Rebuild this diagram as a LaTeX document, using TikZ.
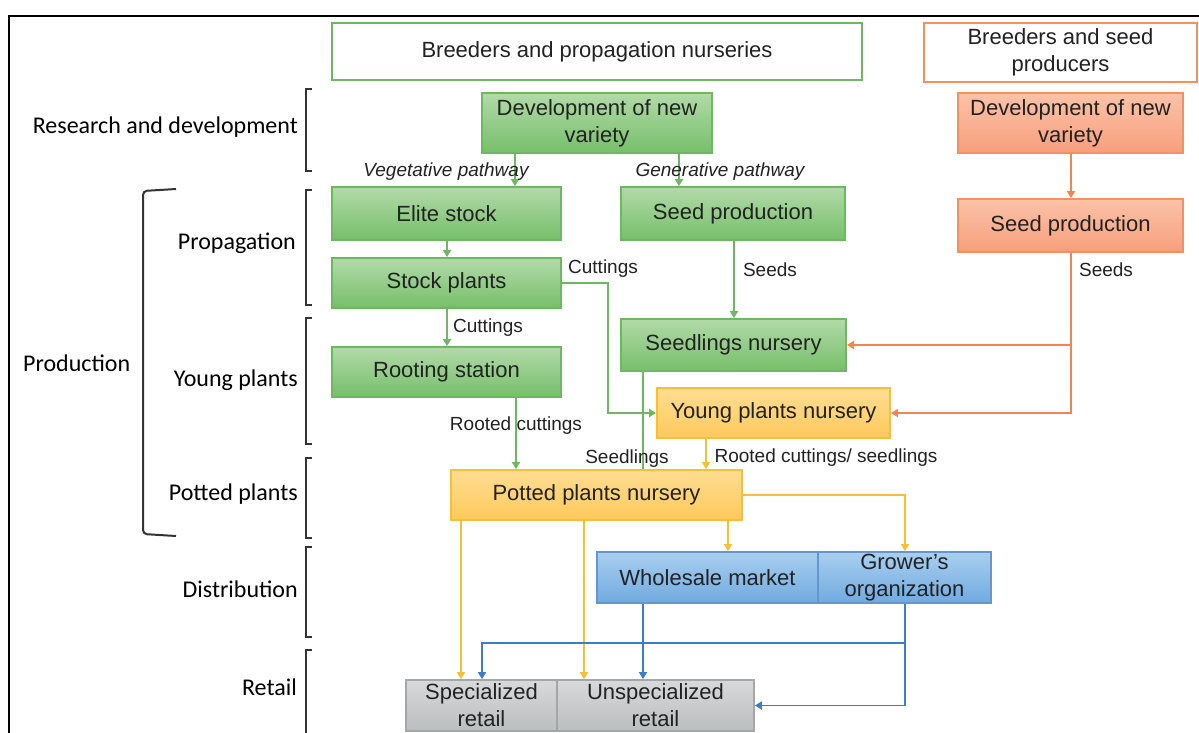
\documentclass[tikz,border=0pt]{standalone}
\usepackage{fontspec}
\setmainfont{Liberation Sans}
\newfontfamily\calfont{Carlito}
\usetikzlibrary{arrows.meta}
\definecolor{gtop}{HTML}{B2DAA8}
\definecolor{gbot}{HTML}{76BF6A}
\definecolor{gline}{HTML}{6DB862}
\definecolor{otop}{HTML}{FCC2A8}
\definecolor{obot}{HTML}{F79F7C}
\definecolor{oline}{HTML}{F5844E}
\definecolor{ytop}{HTML}{FFDD92}
\definecolor{ybot}{HTML}{FFC95C}
\definecolor{yline}{HTML}{F7BE3A}
\definecolor{btop}{HTML}{AACFEF}
\definecolor{bbot}{HTML}{6FAAE0}
\definecolor{bline}{HTML}{3E7CC6}
\definecolor{xtop}{HTML}{D8D9DB}
\definecolor{xbot}{HTML}{BCBDBF}
\definecolor{xline}{HTML}{A5A6A8}
\definecolor{txt}{HTML}{222222}
\definecolor{brk}{HTML}{333333}
\begin{document}
\begin{tikzpicture}[x=1pt,y=-1pt,
  box/.style={rectangle, inner sep=0pt, line width=1.8pt, align=center, text=txt,
    font=\fontsize{22pt}{27pt}\selectfont},
  gbox/.style={box, draw=gline, top color=gtop, bottom color=gbot},
  obox/.style={box, draw=oline!90, top color=otop, bottom color=obot},
  ybox/.style={box, draw=yline, top color=ytop, bottom color=ybot},
  bbox/.style={box, draw=bline!80, top color=btop, bottom color=bbot},
  xbox/.style={box, draw=xline, top color=xtop, bottom color=xbot},
  hbox/.style={box, fill=white},
  conn/.style={line width=1.8pt},
  tip/.style={-{Triangle[length=7pt,width=8pt]}},
  gc/.style={conn, draw=gline},
  oc/.style={conn, draw=oline},
  yc/.style={conn, draw=yline},
  bc/.style={conn, draw=bline},
  lab/.style={inner sep=0pt, text=txt, font=\fontsize{19pt}{23pt}\selectfont},
  ilab/.style={lab, font=\fontsize{19pt}{23pt}\selectfont\itshape},
  side/.style={inner sep=0pt, text=black, font=\calfont\fontsize{24pt}{28pt}\selectfont},
  bracket/.style={line width=2pt, draw=brk}
]
\useasboundingbox (0,0) rectangle (1199,733);
% outer frame
\draw[line width=2.5pt, black] (9,733) -- (9,16) -- (1199,16);

% header boxes
\node[hbox, draw=gline, minimum width=530pt, minimum height=57pt] (hdrG) at (597,51.5) {Breeders and propagation nurseries};
\node[hbox, draw=oline!90, minimum width=273pt, minimum height=59pt] (hdrO) at (1060.5,52.5) {Breeders and seed\\producers};

% boxes
\node[gbox, minimum width=230pt, minimum height=60pt] (devG) at (597,123) {Development of new\\variety};
\node[obox, minimum width=225pt, minimum height=60pt] (devO) at (1070.5,123) {Development of new\\variety};
\node[gbox, minimum width=229pt, minimum height=53pt] (elite) at (446.5,213.5) {Elite stock};
\node[gbox, minimum width=224pt, minimum height=53pt] (seedG) at (733,213.5) {Seed production};
\node[obox, minimum width=225pt, minimum height=53pt] (seedO) at (1070.5,225.5) {Seed production};
\node[gbox, minimum width=229pt, minimum height=50pt] (stock) at (446.5,283) {Stock plants};
\node[gbox, minimum width=225pt, minimum height=52pt] (seedl) at (733.5,345) {Seedlings nursery};
\node[gbox, minimum width=229pt, minimum height=50pt] (rooting) at (446.5,372) {Rooting station};
\node[ybox, minimum width=233pt, minimum height=50pt] (young) at (773.5,413) {Young plants nursery};
\node[ybox, minimum width=291pt, minimum height=50pt] (potted) at (596.5,495) {Potted plants nursery};
\node[bbox, minimum width=221pt, minimum height=51pt] (whole) at (707.5,577.5) {Wholesale market};
\node[bbox, minimum width=173pt, minimum height=51pt] (grower) at (904.5,577.5) {Grower’s\\organization};
\node[xbox, minimum width=151pt, minimum height=51pt] (spec) at (481.5,705.5) {Specialized\\retail};
\node[xbox, minimum width=197pt, minimum height=51pt] (unspec) at (655.5,705.5) {Unspecialized\\retail};

% x and y reference coordinates
\coordinate (xveg) at (515,0);
\coordinate (xgen) at (679,0);
\coordinate (xorg) at (1071,0);
\coordinate (xel) at (447,0);
\coordinate (xseeds) at (734,0);
\coordinate (xcut) at (608,0);
\coordinate (xroot) at (516,0);
\coordinate (xsdl) at (643,0);
\coordinate (xyp) at (706,0);
\coordinate (xsp) at (461,0);
\coordinate (xus) at (584,0);
\coordinate (xwh) at (728,0);
\coordinate (xgr) at (905,0);
\coordinate (xwd) at (643,0);
\coordinate (xsb) at (482,0);
\coordinate (yblue) at (0,643);

% connectors
\draw[gc, tip] (devG.south -| xveg) -- (elite.north -| xveg);
\draw[gc, tip] (devG.south -| xgen) -- (seedG.north -| xgen);
\draw[oc, tip] (devO.south -| xorg) -- (seedO.north -| xorg);
\draw[gc, tip] (elite.south -| xel) -- (stock.north -| xel);
\draw[gc, tip] (stock.south -| xel) -- (rooting.north -| xel);
\draw[gc, tip] (stock.east) -- (stock.east -| xcut) -- (young.west -| xcut) -- (young.west);
\draw[gc, tip] (seedG.south -| xseeds) -- (seedl.north -| xseeds);
\draw[oc, tip] (seedO.south -| xorg) -- (young.east -| xorg) -- (young.east);
\draw[oc, tip] (seedl.east -| xorg) -- (seedl.east);
\draw[gc, tip] (rooting.south -| xroot) -- (potted.north -| xroot);
\draw[gc] (seedl.south -| xsdl) -- (potted.north -| xsdl);
\draw[yc, tip] (young.south -| xyp) -- (potted.north -| xyp);
\draw[yc, tip] (potted.south -| xsp) -- (spec.north -| xsp);
\draw[yc, tip] (potted.south -| xus) -- (unspec.north -| xus);
\draw[yc, tip] (potted.south -| xwh) -- (whole.north -| xwh);
\draw[yc, tip] (potted.east) -- (potted.east -| xgr) -- (grower.north -| xgr);
\draw[bc, tip] (whole.south -| xwd) -- (unspec.north -| xwd);
\draw[bc, tip] (grower.south -| xgr) -- (unspec.east -| xgr) -- (unspec.east);
\draw[bc, tip] (yblue -| xgr) -- (yblue -| xsb) -- (spec.north -| xsb);

% connector labels
\node[ilab] (lveg) at (446,172) {Vegetative pathway};
\node[ilab] (lgen) at (720,172) {Generative pathway};
\node[lab] (lcut1) at (603,269) {Cuttings};
\node[lab] (lseeds1) at (770,270) {Seeds};
\node[lab] (lseeds2) at (1106,270) {Seeds};
\node[lab] (lcut2) at (488,328) {Cuttings};
\node[lab] (lroot) at (516,426) {Rooted cuttings};
\node[lab] (lsdl) at (627,459) {Seedlings};
\node[lab] (lrcs) at (826,458) {Rooted cuttings/ seedlings};

% side labels
\node[side, anchor=east] (sRD) at (298,127) {Research and development};
\node[side, anchor=east] (sProp) at (296,243) {Propagation};
\node[side, anchor=east] (sYoung) at (298,380) {Young plants};
\node[side, anchor=east] (sPot) at (298,494) {Potted plants};
\node[side, anchor=east] (sDist) at (298,589) {Distribution};
\node[side, anchor=east] (sRet) at (297,687) {Retail};
\node[side, anchor=west] (sProd) at (23,363) {Production};

% brackets
\foreach \a/\b in {89/171, 190/305, 318/444, 458/538, 547/637, 650/745}
  \draw[bracket] (312,\a) -- (306,\a) -- (306,\b) -- (312,\b);
\draw[bracket, rounded corners=4pt] (176,189) -- (143,191) -- (143,534) -- (176,536);
\end{tikzpicture}
\end{document}
